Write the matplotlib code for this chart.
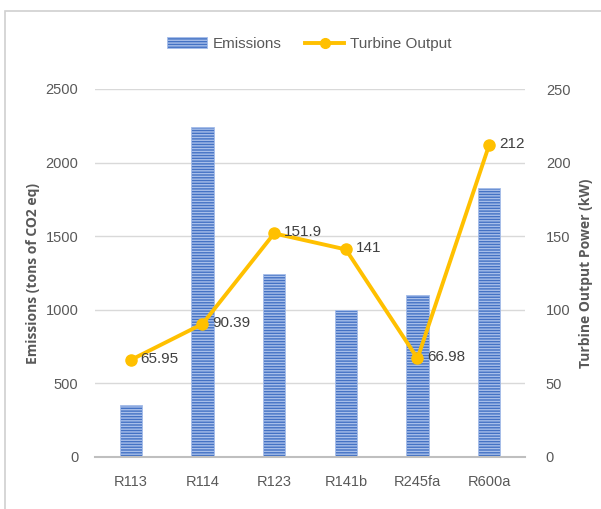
import numpy as np
import matplotlib
matplotlib.use('Agg')
import matplotlib.pyplot as plt
from matplotlib.patches import Rectangle, Patch
from matplotlib.lines import Line2D

# data
refrigerants = ['R113', 'R114', 'R123', 'R141b', 'R245fa', 'R600a']
emissions = [350, 2240, 1240, 1000, 1100, 1830]
turbine_kw = [65.95, 90.39, 151.9, 141, 66.98, 212]
kw_labels = ['65.95', '90.39', '151.9', '141', '66.98', '212']

plt.rcParams['font.family'] = ['Liberation Sans', 'DejaVu Sans']
plt.rcParams['hatch.linewidth'] = 1.0

BLUE = '#4472C4'
GOLD = '#FFC000'
GREY = '#595959'

fig = plt.figure(figsize=(6.01, 5.09), dpi=100)
ax = fig.add_axes([95 / 601, 1 - 457 / 509, 430 / 601, 368 / 509])

x = np.arange(len(refrigerants))
ax.bar(x, emissions, width=0.31, color=BLUE, edgecolor='#A8BFEA',
       linewidth=0.6, hatch='------', zorder=2)
ax.set_ylim(0, 2500)
ax.set_yticks(np.arange(0, 2501, 500))
ax.set_xlim(-0.5, len(refrigerants) - 0.5)
ax.set_xticks(x)
ax.set_xticklabels(refrigerants)
ax.grid(axis='y', color='#D9D9D9', lw=1, zorder=0)
for s in ['top', 'right', 'left']:
    ax.spines[s].set_visible(False)
ax.spines['bottom'].set_color('#BFBFBF')
ax.spines['bottom'].set_linewidth(1.5)
ax.tick_params(axis='both', length=0, colors=GREY, labelsize=10.5)
ax.tick_params(axis='y', pad=12)
ax.tick_params(axis='x', pad=13)
ax.set_ylabel('Emissions (tons of CO2 eq)', family=['Open Sans', 'DejaVu Sans'],
              fontsize=10, fontweight='bold', color=GREY, labelpad=4)

ax2 = ax.twinx()
ax2.plot(x, turbine_kw, color=GOLD, lw=2.8, marker='o', markersize=8, zorder=3)
for xi, yi, lab in zip(x, turbine_kw, kw_labels):
    ax2.annotate(lab, (xi, yi), xytext=(7, 1), textcoords='offset points',
                 ha='left', va='center', fontsize=11, color='#404040')
ax2.set_ylim(0, 250)
ax2.set_yticks(np.arange(0, 251, 50))
for s in ['top', 'right', 'left', 'bottom']:
    ax2.spines[s].set_visible(False)
ax2.tick_params(axis='y', length=0, colors=GREY, labelsize=10.5, pad=15)
ax2.set_ylabel('Turbine Output Power (kW)', family=['Open Sans', 'DejaVu Sans'],
               fontsize=10, fontweight='bold', color=GREY, labelpad=6)

handles = [Patch(facecolor=BLUE, edgecolor='#A8BFEA', hatch='------', lw=0.6),
           Line2D([0], [0], color=GOLD, lw=2.8, marker='o', markersize=7)]
fig.legend(handles, ['Emissions', 'Turbine Output'], loc='center',
           bbox_to_anchor=(0.515, 1 - 44 / 509), ncol=2, frameon=False,
           fontsize=11, labelcolor=GREY, handlelength=2.6, columnspacing=1.5,
           handletextpad=0.4)

# light frame around the chart area
fig.patches.append(Rectangle((5 / 601, -0.1), 1.2, 1 - 11 / 509 + 0.1,
                             transform=fig.transFigure, fill=False,
                             edgecolor='#D0D0D0', lw=1.2))

fig.savefig('out.png', dpi=100)
